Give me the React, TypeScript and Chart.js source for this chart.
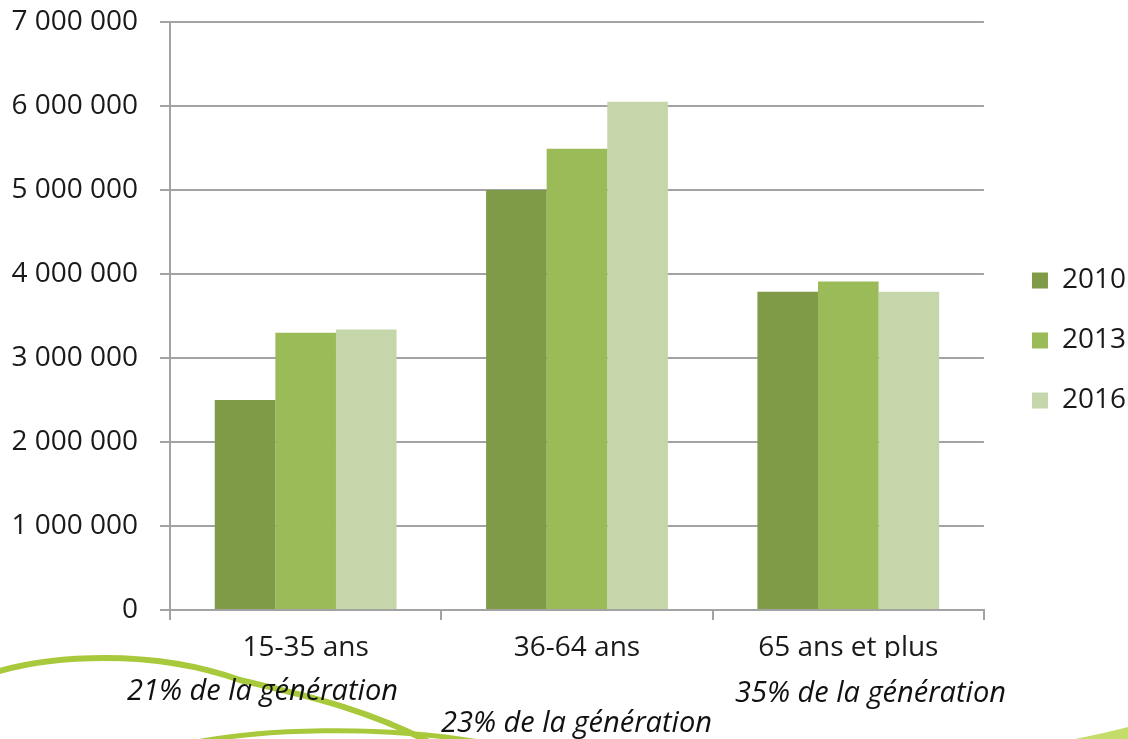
import React, { useEffect, useRef } from 'react';
import { Chart, registerables } from 'chart.js';

Chart.register(...registerables);

// ---- data ----
const categories = ['15-35 ans', '36-64 ans', '65 ans et plus'];
const seriesLabels = ['2010', '2013', '2016'];
const values2010 = [2500000, 5000000, 3790000];
const values2013 = [3300000, 5490000, 3910000];
const values2016 = [3340000, 6050000, 3790000];
const seriesColors = ['#7f9b48', '#9bbb59', '#c6d6ab'];
const shareNotes = ['21% de la génération', '23% de la génération', '35% de la génération'];
const yMax = 7000000;
const yStep = 1000000;

const seriesValues = [values2010, values2013, values2016];

const GRID = '#a3a3a3';
const TEXT = '#1a1a1a';
const FONT = "'Open Sans', 'DejaVu Sans', sans-serif";

const formatThousands = (v: number) =>
  String(Math.round(v)).replace(/\B(?=(\d{3})+(?!\d))/g, ' ');

const legendShift = {
  id: 'legendShift',
  afterLayout(chart: any) {
    const l = chart.legend;
    if (!l) return;
    const dx = 16;
    const dy = -40;
    l.left += dx;
    l.right += dx;
    l.top += dy;
    l.bottom += dy;
  },
};

export default function App() {
  const ref = useRef<HTMLCanvasElement | null>(null);

  useEffect(() => {
    if (!ref.current) return;
    const chart = new Chart(ref.current, {
      type: 'bar',
      data: {
        labels: categories,
        datasets: seriesLabels.map((label, i) => ({
          label,
          data: seriesValues[i],
          backgroundColor: seriesColors[i],
          borderWidth: 0,
          barPercentage: 1.0,
          categoryPercentage: 0.67,
        })),
      },
      plugins: [legendShift],
      options: {
        animation: false,
        responsive: true,
        maintainAspectRatio: false,
        layout: { padding: { top: 22, right: 8, bottom: 0, left: 0 } },
        plugins: {
          tooltip: { enabled: false },
          legend: {
            position: 'right',
            align: 'center',
            labels: {
              boxWidth: 16,
              boxHeight: 16,
              padding: 32,
              color: TEXT,
              font: { family: FONT, size: 28 },
            },
          },
        },
        scales: {
          x: {
            afterFit: (s: any) => {
              s.height = 129;
            },
            grid: {
              display: true,
              drawOnChartArea: false,
              drawTicks: true,
              tickLength: 10,
              color: GRID,
              lineWidth: 2,
              offset: true,
            },
            border: { display: true, color: GRID, width: 2 },
            ticks: {
              color: TEXT,
              padding: 11,
              font: { family: FONT, size: 28 },
              maxRotation: 0,
            },
          },
          y: {
            min: 0,
            max: yMax,
            afterFit: (s: any) => {
              s.width = 170;
              s.paddingTop = 0;
              s.paddingBottom = 0;
            },
            grid: {
              color: GRID,
              lineWidth: 2,
              tickLength: 10,
              drawTicks: true,
            },
            border: { display: true, color: GRID, width: 2 },
            ticks: {
              stepSize: yStep,
              color: TEXT,
              padding: 22,
              font: { family: FONT, size: 28 },
              callback: (v: any) => formatThousands(Number(v)),
            },
          },
        },
      },
    });
    return () => chart.destroy();
  }, []);

  const noteStyle = (left: number, top: number): React.CSSProperties => ({
    position: 'absolute',
    left,
    top,
    fontFamily: FONT,
    fontStyle: 'italic',
    fontSize: 29,
    lineHeight: '34px',
    color: '#111',
    whiteSpace: 'nowrap',
  });

  return (
    <div
      style={{
        position: 'absolute',
        left: 0,
        top: 0,
        width: 1128,
        height: 739,
        overflow: 'hidden',
        background: '#ffffff',
      }}
    >
      <canvas ref={ref} style={{ position: 'absolute', left: 0, top: 0, width: 1128, height: 739 }} />
      <svg
        width={1128}
        height={739}
        style={{ position: 'absolute', left: 0, top: 0, pointerEvents: 'none' }}
      >
        <rect x={170} y={658} width={813} height={14} fill="#ffffff" />
        <path
          d="M -4 672 C 50 656 150 648 240 680 C 290 692 370 708 440 748"
          stroke="#a9c93c"
          strokeWidth={6}
          fill="none"
        />
        <path
          d="M 170 748 C 250 727 390 724 495 745"
          stroke="#a9c93c"
          strokeWidth={5}
          fill="none"
        />
        <path d="M 1075 739 Q 1105 733 1128 727 L 1128 739 Z" fill="#c4dc6a" />
      </svg>
      <div style={noteStyle(127, 672)}>{shareNotes[0]}</div>
      <div style={noteStyle(441, 704)}>{shareNotes[1]}</div>
      <div style={noteStyle(735, 674)}>{shareNotes[2]}</div>
    </div>
  );
}
